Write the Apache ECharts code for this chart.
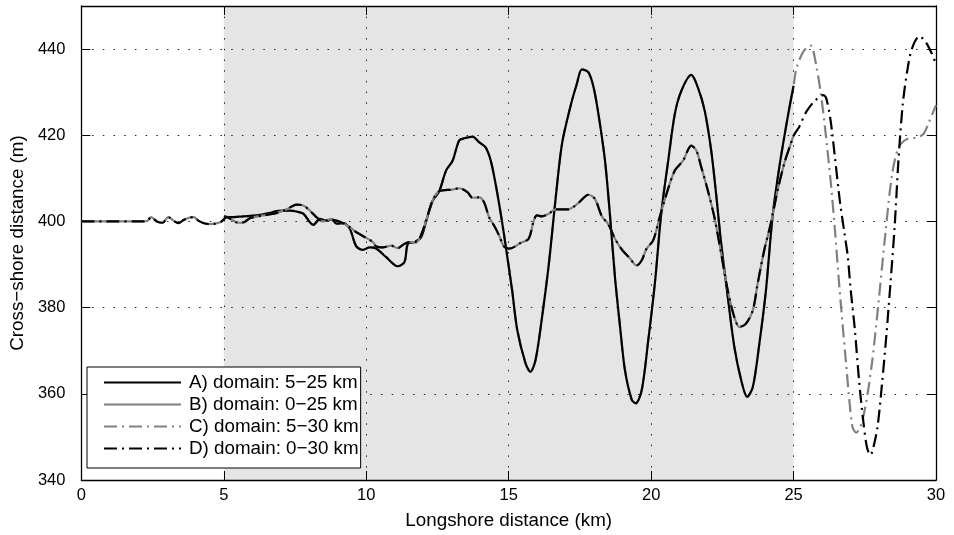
<!DOCTYPE html>
<html>
<head>
<meta charset="utf-8">
<script src="https://cdn.jsdelivr.net/npm/echarts@6/dist/echarts.min.js"></script>
<style>html,body{margin:0;padding:0;background:#fff;}#c{width:954px;height:535px;}</style>
</head>
<body>
<div id="c"></div>
<script>
// ---- data (x: km, y: m) ----
const xMin = 0, xMax = 30, xInterval = 5;
const yMin = 340, yMax = 450, yInterval = 20;
const shadedFrom = 5, shadedTo = 25;
const seriesNames = ['A) domain: 5\u221225 km', 'B) domain: 0\u221225 km', 'C) domain: 5\u221230 km', 'D) domain: 0\u221230 km'];

const lineA = [[5.0,401.2],[5.23,401],[5.69,401.2],[6.16,401.4],[6.63,402],[6.86,402.4],[7.32,402.5],[7.55,402.3],[7.79,401.8],[8.02,399.8],[8.14,399.2],[8.37,400.6],[8.6,400.2],[8.78,400.5],[8.95,399.5],[9.19,399.6],[9.42,398.3],[9.65,394.2],[9.88,393.4],[10.12,394],[10.35,393.7],[10.7,391.7],[11.1,389.6],[11.34,390.6],[11.46,394.8],[11.69,395.2],[11.92,396.3],[12.1,400],[12.33,404.8],[12.56,407],[12.8,411.8],[13.03,414.1],[13.26,418.8],[13.44,419.3],[13.73,419.7],[13.96,418.4],[14.19,417.2],[14.37,414.1],[14.54,408.7],[14.72,401.8],[14.89,394.5],[15.12,384],[15.3,374.8],[15.59,367.1],[15.76,365.1],[15.94,367.8],[16.17,377.8],[16.41,390.2],[16.64,404.9],[16.87,418],[17.16,426.5],[17.39,431.9],[17.57,435.3],[17.8,434.6],[17.98,431.1],[18.15,424.9],[18.38,414.1],[18.56,401],[18.73,387.1],[18.91,375.5],[19.08,365.5],[19.32,358.6],[19.46,357.8],[19.67,360.9],[19.9,372.5],[20.13,385.6],[20.36,402.2],[20.6,414.1],[20.83,424.9],[21.06,430.3],[21.41,434],[21.64,431.1],[21.88,425.7],[22.11,416.4],[22.28,406.4],[22.46,394.8],[22.69,382.5],[22.92,370.9],[23.16,363.2],[23.37,359.3],[23.57,361.6],[23.8,371.7],[24.03,384],[24.26,401],[24.5,412.6],[24.79,424.1],[25.0,431.5]];

const lineB = [[0,400],[1,400],[2,400],[2.3,400.1],[2.45,401],[2.65,400],[2.85,399.7],[3.05,401],[3.25,400.1],[3.4,399.6],[3.6,400.4],[3.8,400.9],[3.95,401],[4.1,400.2],[4.3,399.6],[4.5,399.4],[4.7,399.5],[4.9,399.9],[5.1,401],[5.3,400.3],[5.5,399.7],[5.65,399.7],[5.93,400.8],[6.39,401.4],[6.86,402],[7.2,402.8],[7.55,403.9],[7.79,403.7],[8.02,402.5],[8.25,401],[8.49,400],[8.72,400.5],[8.95,400.2],[9.19,399.6],[9.42,398.7],[9.65,397.5],[10.0,396.2],[10.23,395.2],[10.35,394.2],[10.6,394.0],[10.87,394.4],[11.1,393.8],[11.34,394.8],[11.5,395.2],[11.76,395.2],[11.92,396.8],[12.1,400.2],[12.33,404.9],[12.56,407],[13.03,407.4],[13.26,407.7],[13.55,406.8],[13.73,405.5],[13.96,405.6],[14.13,404.5],[14.31,401],[14.48,399.1],[14.66,396.8],[14.83,394.2],[15.01,393.7],[15.2,394.1],[15.41,395.0],[15.7,396],[15.88,400.2],[15.99,401.4],[16.17,401.2],[16.41,401.8],[16.64,402.8],[17.1,402.8],[17.3,403.5],[17.45,404.3],[17.8,406.2],[18.03,405.2],[18.27,401.2],[18.5,399.3],[18.73,396],[18.97,393.5],[19.26,391.4],[19.49,389.8],[19.67,391],[19.84,393.7],[20.07,395.6],[20.3,401],[20.54,406.4],[20.83,411.8],[21.12,414.1],[21.41,417.6],[21.59,416.4],[21.76,412.6],[21.99,407.2],[22.22,401],[22.46,392.5],[22.69,384],[22.92,377.8],[23.1,375.5],[23.33,376.3],[23.57,379.4],[23.74,385.6],[23.97,393.3],[24.2,399.5],[24.44,407.2],[24.67,413.4],[24.9,418],[25.0,419.9]];

// beyond 25 km (C follows A inside 5-25 km, D follows B inside 0-25 km)
const tailC = [[25.1,435.5],[25.35,439.5],[25.6,440.8],[25.8,436],[25.95,430],[26.1,422],[26.3,409.5],[26.44,399],[26.6,385.5],[26.83,368],[27.06,352.5],[27.2,351],[27.35,352.5],[27.52,357],[27.75,367],[27.99,381.7],[28.22,397],[28.46,411],[28.69,417.2],[28.98,419.1],[29.33,419.5],[29.56,420.3],[29.75,423],[30,427]];
const tailD = [[25.2,422],[25.45,425.5],[25.75,428],[26.05,429.3],[26.15,428.5],[26.3,423.4],[26.45,415],[26.62,405],[26.77,398],[26.9,392],[27.0,384.5],[27.15,375],[27.3,363],[27.45,353.5],[27.58,347.5],[27.7,345.8],[27.8,347.5],[27.95,352.5],[28.1,362],[28.25,373],[28.4,385.5],[28.55,399],[28.68,414],[28.83,427],[28.98,434.5],[29.15,440],[29.42,443],[29.65,441.5],[29.85,439],[30,436.5]];

const lineC = lineA.concat(tailC);
const lineD = lineB.concat(tailD);

// ---- chart ----
const FONT = 'Liberation Sans';
const chart = echarts.init(document.getElementById('c'), null, {renderer: 'canvas'});
const dotted = {color: '#222', width: 1, type: [1.5, 9.2]};
const axisLineStyle = {show: true, onZero: false, lineStyle: {color: '#000', width: 1.3}};
const tickStyle = {show: true, inside: true, length: 9, lineStyle: {color: '#000', width: 1}};
const lineCommon = {type: 'line', showSymbol: false, symbol: 'none', smooth: 0.3, clip: true, z: 5, animation: false};
const dashDot = [13, 5, 2, 5];

chart.setOption({
  animation: false,
  backgroundColor: '#fff',
  grid: {left: 77, right: 18, top: 6, bottom: 55, containLabel: false},
  xAxis: [
    {type: 'value', min: xMin, max: xMax, interval: xInterval, position: 'bottom', z: 3,
     axisLine: axisLineStyle, axisTick: tickStyle,
     axisLabel: {color: '#000', fontSize: 16.5, fontFamily: FONT, margin: 7},
     splitLine: {show: true, lineStyle: dotted},
     name: 'Longshore distance (km)', nameLocation: 'middle', nameGap: 31,
     nameTextStyle: {color: '#000', fontSize: 18.8, fontFamily: FONT}},
    {type: 'value', min: xMin, max: xMax, interval: xInterval, position: 'top', z: 3,
     axisLine: axisLineStyle, axisTick: tickStyle, axisLabel: {show: false}, splitLine: {show: false}}
  ],
  yAxis: [
    {type: 'value', min: yMin, max: yMax, interval: yInterval, position: 'left', z: 3,
     axisLine: axisLineStyle, axisTick: tickStyle,
     axisLabel: {color: '#000', fontSize: 16.5, fontFamily: FONT, margin: 16,
                 formatter: v => (v > 445 ? '' : String(v))},
     splitLine: {show: true, lineStyle: dotted},
     name: 'Cross\u2212shore distance (m)', nameLocation: 'middle', nameGap: 49,
     nameTextStyle: {color: '#000', fontSize: 18.8, fontFamily: FONT}},
    {type: 'value', min: yMin, max: yMax, interval: yInterval, position: 'right', z: 3,
     axisLine: axisLineStyle, axisTick: tickStyle, axisLabel: {show: false}, splitLine: {show: false}}
  ],
  legend: {
    data: seriesNames,
    orient: 'vertical', left: 87, top: 367,
    padding: [6, 2, 10, 16],
    itemWidth: 77, itemHeight: 14, itemGap: 3,
    itemStyle: {opacity: 0},
    backgroundColor: '#fff', borderColor: '#000', borderWidth: 1, borderRadius: 0,
    textStyle: {color: '#000', fontSize: 18.8, fontFamily: FONT, lineHeight: 19, padding: [0, 0, 0, 3]},
    selectedMode: false, z: 10
  },
  series: [
    {type: 'line', name: 'shade', data: [[0, 400]], symbol: 'none', silent: true, z: 0,
     lineStyle: {opacity: 0}, animation: false,
     markArea: {silent: true, z: 0, itemStyle: {color: '#e5e5e5'},
                data: [[{xAxis: shadedFrom}, {xAxis: shadedTo}]]}},
    Object.assign({}, lineCommon, {name: seriesNames[2], data: lineC,
      lineStyle: {color: '#808080', width: 2.2, type: dashDot}, itemStyle: {color: '#808080'}}),
    Object.assign({}, lineCommon, {name: seriesNames[0], data: lineA,
      lineStyle: {color: '#000', width: 2.2, type: 'solid'}, itemStyle: {color: '#000'}}),
    Object.assign({}, lineCommon, {name: seriesNames[1], data: lineB,
      lineStyle: {color: '#808080', width: 2.2, type: 'solid'}, itemStyle: {color: '#808080'}}),
    Object.assign({}, lineCommon, {name: seriesNames[3], data: lineD,
      lineStyle: {color: '#000', width: 2.2, type: dashDot}, itemStyle: {color: '#000'}})
  ]
});
</script>
</body>
</html>
